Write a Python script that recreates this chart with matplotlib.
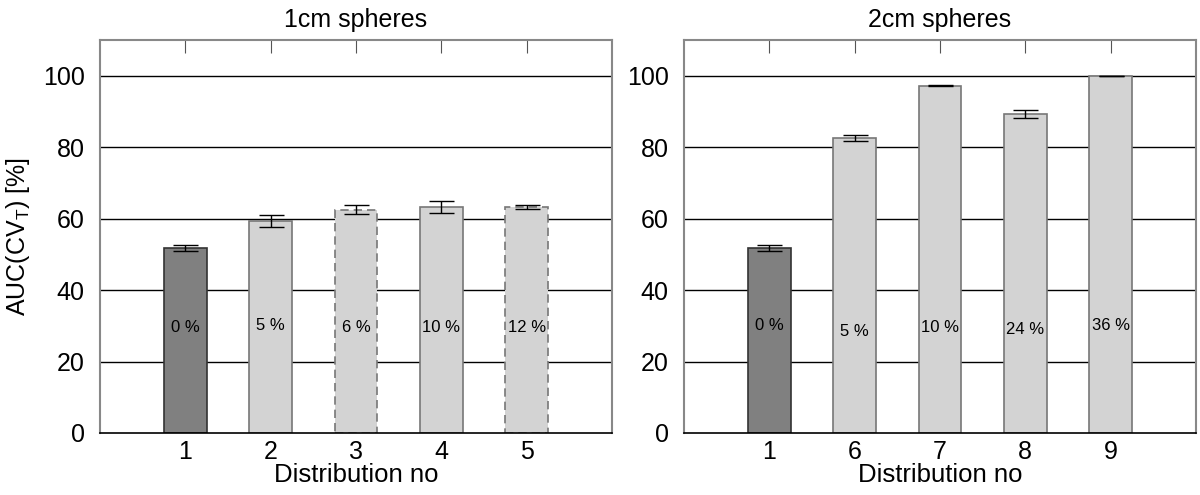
import numpy as np
import matplotlib.pyplot as plt

plt.rcParams['font.family'] = ['Liberation Sans', 'DejaVu Sans']
plt.rcParams['mathtext.fontset'] = 'custom'
plt.rcParams['mathtext.rm'] = 'Liberation Sans'

# 1cm spheres
labels_1 = ['1', '2', '3', '4', '5']
auc_1 = [51.8, 59.4, 62.5, 63.2, 63.2]
err_lo_1 = [0.9, 1.8, 1.1, 1.6, 0.6]
err_hi_1 = [0.8, 1.5, 1.2, 1.7, 0.7]
pct_1 = ['0 %', '5 %', '6 %', '10 %', '12 %']

# 2cm spheres
labels_2 = ['1', '6', '7', '8', '9']
auc_2 = [51.8, 82.5, 97.2, 89.3, 100.0]
err_lo_2 = [0.9, 0.8, 0.1, 1.1, 0.0]
err_hi_2 = [0.8, 0.9, 0.1, 1.0, 0.0]
pct_2 = ['0 %', '5 %', '10 %', '24 %', '36 %']

fig = plt.figure(figsize=(12, 4.95), dpi=100)
ax1 = fig.add_axes([0.0833, 0.1253, 0.4267, 0.794])
ax2 = fig.add_axes([0.57, 0.1253, 0.4267, 0.794])


def draw_panel(ax, labels, vals, lo, hi, pct, title, dashed, text_y):
    x = np.arange(1, len(vals) + 1)
    for yv in [20, 40, 60, 80, 100]:
        ax.axhline(yv, color='black', lw=1, zorder=0)
    for i, xi in enumerate(x):
        if i == 0:
            fc, ec, ls = '#808080', '#333333', '-'
        else:
            fc, ec, ls = '#d3d3d3', '#777777', '-'
        if i in dashed:
            ls = (0, (5, 3))
        ax.bar(xi, vals[i], width=0.5, color=fc, edgecolor=ec, linewidth=1.2,
               linestyle=ls, zorder=2)
    ax.errorbar(x, vals, yerr=[lo, hi], fmt='none', ecolor='black',
                elinewidth=1, capsize=9, capthick=1, zorder=3)
    for xi, t, ty in zip(x, pct, text_y):
        ax.text(xi, ty, t, ha='center', va='center', fontsize=12)
    ax.set_xlim(0, 6)
    ax.set_ylim(0, 110)
    ax.set_xticks(x)
    ax.set_xticklabels(labels)
    ax.set_yticks([0, 20, 40, 60, 80, 100])
    ax.tick_params(axis='y', length=0, labelsize=18, pad=11)
    ax.tick_params(axis='x', bottom=False, top=True, direction='in', length=9,
                   color='#555555', labelsize=18, pad=5)
    ax.set_xlabel('Distribution no', fontsize=18.5, labelpad=-1)
    ax.set_title(title, fontsize=18, pad=9)
    for s in ['top', 'left', 'right']:
        ax.spines[s].set_color('#888888')
        ax.spines[s].set_linewidth(1.5)
    ax.spines['bottom'].set_color('black')
    ax.spines['bottom'].set_linewidth(1.2)


draw_panel(ax1, labels_1, auc_1, err_lo_1, err_hi_1, pct_1, '1cm spheres',
           [2, 4], [29.5, 30, 29.5, 29.5, 29.5])
draw_panel(ax2, labels_2, auc_2, err_lo_2, err_hi_2, pct_2, '2cm spheres',
           [], [30, 28.5, 29.5, 29, 30])

ax1.set_ylabel(r'AUC(CV$_\mathrm{T}$) [%]', fontsize=18, labelpad=8)

fig.savefig('out.png', dpi=100)
